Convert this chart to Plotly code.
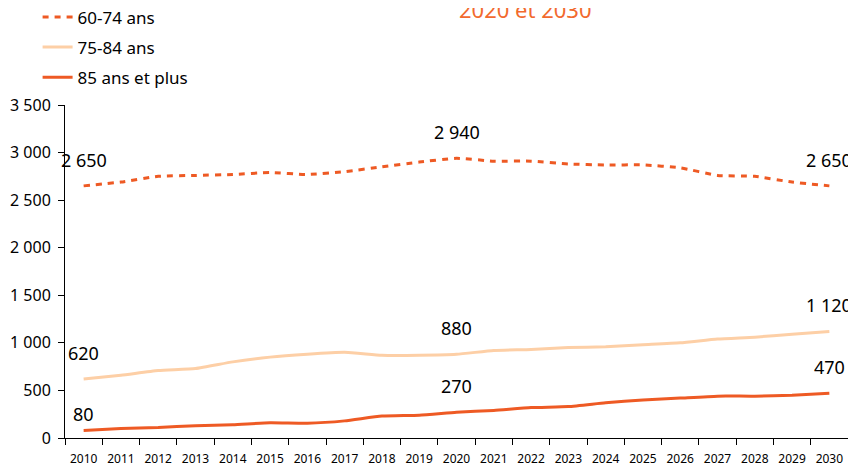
import plotly.graph_objects as go

years = [str(y) for y in range(2010, 2031)]
s6074 = [2650, 2690, 2750, 2760, 2770, 2790, 2770, 2800, 2850, 2900, 2940,
         2910, 2910, 2880, 2870, 2870, 2840, 2760, 2750, 2690, 2650]
s7584 = [620, 660, 710, 730, 800, 850, 880, 900, 870, 870, 880,
         920, 930, 950, 960, 980, 1000, 1040, 1060, 1090, 1120]
s85 = [80, 100, 110, 130, 140, 160, 155, 180, 230, 240, 270,
       290, 320, 330, 370, 400, 420, 440, 440, 450, 470]
names = ["60-74 ans", "75-84 ans", "85 ans et plus"]
label_idx = [0, 10, 20]
title_tail = "2020 et 2030"

c_dark = "#EE5A24"
c_light = "#FDCFA6"

fig = go.Figure()
fig.add_trace(go.Scatter(x=years, y=s6074, name=names[0], mode="lines",
                         line=dict(color=c_dark, width=3, dash="6px,6px", shape="spline", smoothing=0.5),
                         legendgroup="a"))
fig.add_trace(go.Scatter(x=years, y=s7584, name=names[1], mode="lines",
                         line=dict(color=c_light, width=3, shape="spline", smoothing=0.5),
                         legendgroup="b"))
fig.add_trace(go.Scatter(x=years, y=s85, name=names[2], mode="lines",
                         line=dict(color=c_dark, width=3, shape="spline", smoothing=0.5),
                         legendgroup="c"))

def fmt(v):
    return f"{v:,}".replace(",", " ")

label_shift = {0: [26, 26, 26], 1: [26, 26, 26], 2: [16, 26, 26]}

ann = []
for k, series in enumerate((s6074, s7584, s85)):
    for j, i in enumerate(label_idx):
        # category axis: annotation x given as category index
        ann.append(dict(x=i, y=series[i], text=fmt(series[i]), showarrow=False,
                        yshift=label_shift[k][j], font=dict(size=18, color="#000000")))
ann.append(dict(x=0.5875, y=1.238, xref="paper", yref="paper", text=title_tail, showarrow=False,
                xanchor="center", yanchor="bottom", font=dict(size=22, color="#F26A2E")))

fig.update_layout(
    width=848, height=458,
    margin=dict(l=57, r=8, t=97, b=28, autoexpand=False),
    paper_bgcolor="white", plot_bgcolor="white",
    font=dict(family="Noto Sans, sans-serif", color="#000000"),
    separators=", ",
    showlegend=True,
    legend=dict(x=-0.035, y=1.317, xanchor="left", yanchor="top",
                font=dict(size=17), traceorder="grouped", tracegroupgap=5,
                bgcolor="rgba(0,0,0,0)"),
    annotations=ann,
    xaxis=dict(type="category", range=[-0.5, 20.5], tickson="boundaries", ticks="outside", ticklen=6,
               tickcolor="#000", showline=True, linecolor="#000", linewidth=1,
               showgrid=False, tickfont=dict(size=12), tickangle=0, automargin=False,
               ticklabelstandoff=10),
    yaxis=dict(range=[0, 3500], dtick=500, tickformat=",", ticks="outside", ticklen=6,
               tickcolor="#000", showline=True, linecolor="#000", linewidth=1,
               showgrid=False, zeroline=False, tickfont=dict(size=16), automargin=False,
               ticklabelstandoff=4),
)

fig.write_html("out.html")
